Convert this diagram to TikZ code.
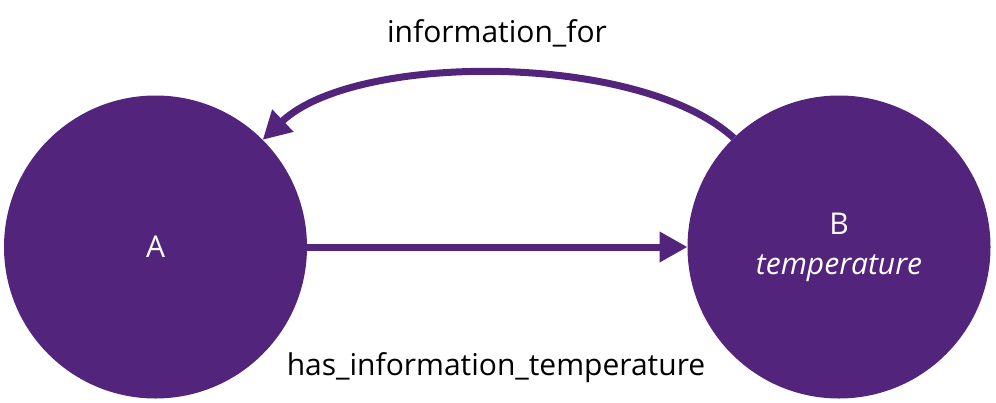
\documentclass[tikz,border=0pt]{standalone}
\usepackage{fontspec}
\setmainfont{Open Sans}
\usetikzlibrary{arrows.meta}
\definecolor{purp}{RGB}{82,36,124}
\begin{document}
\begin{tikzpicture}[x=1pt,y=-1pt,
  ent/.style={circle,fill=purp,draw=none,minimum size=303pt,inner sep=0pt,outer sep=0pt,text=white,font=\fontsize{30}{40}\selectfont,align=center},
  rel/.style={draw=purp,line width=7pt,-{Triangle[length=28pt,width=29pt]}},
  lbl/.style={font=\fontsize{30}{36}\selectfont,text=black,inner sep=0pt,anchor=base}]
\useasboundingbox (0,0) rectangle (996,402);
\node[ent] (A) at (155.5,247) {A};
\node[ent] (B) at (839,247) {B\\\textit{temperature}};
\draw[rel] (A.east) -- (B.west);
\draw[rel] (B.134) .. controls (640,52) and (355,52) .. (A.45);
\node[lbl] (l1) at (497,42) {information\_for};
\node[lbl] (l2) at (496,375) {has\_information\_temperature};
\end{tikzpicture}
\end{document}
